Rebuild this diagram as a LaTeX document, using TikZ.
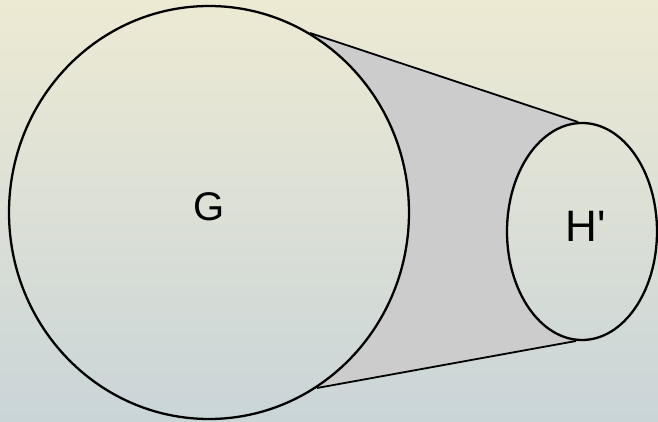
\documentclass[tikz,border=0pt]{standalone}
\usepackage{fontspec}
\setmainfont{Liberation Sans}
\definecolor{bgtop}{RGB}{237,234,211}
\definecolor{bgbot}{RGB}{202,213,216}
\definecolor{beltgray}{RGB}{204,204,204}
\tikzset{
  bgshade/.style={top color=bgtop, bottom color=bgbot, draw=none},
  wheel/.style={draw=black, line width=2.3pt},
  belt/.style={draw=black, line width=1.8pt},
  lbl/.style={font=\fontsize{40}{44}\selectfont}
}
\begin{document}
\begin{tikzpicture}[x=1pt,y=-1pt]
\useasboundingbox (0,0) rectangle (658,422);
\shade[bgshade] (0,0) rectangle (658,422);
% belt region
\fill[beltgray] (310,33) -- (578,122) -- (600,230) -- (576,341) -- (317,388) -- (300,210) -- cycle;
\coordinate (t1) at (310,33);
\coordinate (t2) at (578,122);
\coordinate (b1) at (317,388);
\coordinate (b2) at (576,341);
\draw[belt] (t1) -- (t2);
\draw[belt] (b1) -- (b2);
% wheels refilled with background
\path[path picture={\shade[bgshade] (0,0) rectangle (658,422);}]
  (209,212.5) ellipse [x radius=200, y radius=206.5];
\path[path picture={\shade[bgshade] (0,0) rectangle (658,422);}]
  (582,231.5) ellipse [x radius=75, y radius=108.5];
\draw[wheel] (209,212.5) ellipse [x radius=200, y radius=206.5];
\draw[wheel] (582,231.5) ellipse [x radius=75, y radius=108.5];
\node[lbl] (G) at (209,207) {G};
\node[lbl, font=\fontsize{44}{48}\selectfont] (H) at (586,226) {H\textquotesingle};
\end{tikzpicture}
\end{document}
